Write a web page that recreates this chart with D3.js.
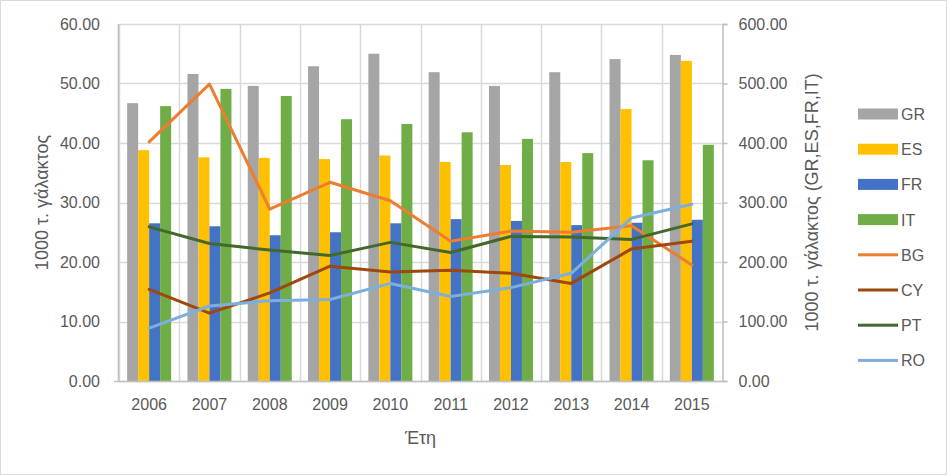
<!DOCTYPE html>
<html>
<head>
<meta charset="utf-8">
<script src="https://cdn.jsdelivr.net/npm/d3@7"></script>
<style>
  body { margin: 0; background: #fff; }
  svg text { font-family: "Liberation Sans", Arial, sans-serif; fill: #595959; }
</style>
</head>
<body>
<div id="chart"></div>
<script>
// Έτη
const years = ['2006', '2007', '2008', '2009', '2010', '2011', '2012', '2013', '2014', '2015'];

// ράβδοι - δεξής άξονας (GR, ES, FR, IT)
const GR = [467, 516, 496, 529, 550, 519, 496, 519, 541, 548];
const ES = [388, 376, 375, 373, 379, 368, 363, 368, 457, 538];
const FR = [265, 260, 245, 250, 265, 272, 269, 262, 266, 271];
const IT = [462, 491, 479, 440, 432, 418, 407, 383, 371, 397];

// γραμμές - αριστερός άξονας
const BG = [40.2, 49.9, 28.9, 33.4, 30.3, 23.5, 25.2, 25.0, 26.1, 19.5];
const CY = [15.4, 11.4, 14.8, 19.3, 18.3, 18.6, 18.1, 16.4, 22.2, 23.5];
const PT = [25.9, 23.1, 22.0, 21.1, 23.3, 21.6, 24.3, 24.2, 23.8, 26.4];
const RO = [8.9, 12.6, 13.5, 13.7, 16.4, 14.2, 15.7, 18.1, 27.4, 29.7];

const leftTicks = [0, 10, 20, 30, 40, 50, 60];
const rightTicks = [0, 100, 200, 300, 400, 500, 600];

const barSeries = [
  { name: 'GR', values: GR, color: '#A5A5A5' },
  { name: 'ES', values: ES, color: '#FFC000' },
  { name: 'FR', values: FR, color: '#4472C4' },
  { name: 'IT', values: IT, color: '#70AD47' }
];
const lineSeries = [
  { name: 'BG', values: BG, color: '#ED7D31' },
  { name: 'CY', values: CY, color: '#9E480E' },
  { name: 'PT', values: PT, color: '#43682B' },
  { name: 'RO', values: RO, color: '#7CAFDD' }
];

const width = 947, height = 475;
const plot = { left: 119, right: 722, top: 24, bottom: 381 };

const svg = d3.select('#chart').append('svg')
  .attr('width', width)
  .attr('height', height);

// πλαίσιο
svg.append('rect')
  .attr('x', 0.5).attr('y', 0.5)
  .attr('width', width - 1).attr('height', height - 1)
  .attr('fill', '#fff').attr('stroke', '#d9d9d9');

const x = d3.scaleBand().domain(years).range([plot.left, plot.right]);
const yLeft = d3.scaleLinear().domain([0, 60]).range([plot.bottom, plot.top]);
const yRight = d3.scaleLinear().domain([0, 600]).range([plot.bottom, plot.top]);

// πλέγμα
const grid = svg.append('g');
leftTicks.forEach(t => {
  grid.append('line')
    .attr('x1', plot.left).attr('x2', plot.right)
    .attr('y1', Math.round(yLeft(t)) + 0.5).attr('y2', Math.round(yLeft(t)) + 0.5)
    .attr('stroke', '#d9d9d9').attr('stroke-width', 1.5);
});
years.forEach(yr => {
  const xp = Math.round(x(yr)) + 0.5;
  grid.append('line')
    .attr('x1', xp).attr('x2', xp)
    .attr('y1', plot.top).attr('y2', plot.bottom)
    .attr('stroke', '#d9d9d9').attr('stroke-width', 1.5);
});

// ράβδοι
const barW = 11;
const groupOff = (x.bandwidth() - barW * barSeries.length) / 2;
barSeries.forEach((s, si) => {
  svg.append('g').selectAll('rect')
    .data(s.values)
    .enter()
    .append('rect')
    .attr('x', (d, i) => x(years[i]) + groupOff + si * barW)
    .attr('y', d => yRight(d))
    .attr('width', barW)
    .attr('height', d => plot.bottom - yRight(d))
    .attr('fill', s.color);
});

// άξονες
svg.append('line')
  .attr('x1', plot.left - 0.5).attr('x2', plot.left - 0.5)
  .attr('y1', plot.top).attr('y2', plot.bottom)
  .attr('stroke', '#bfbfbf').attr('stroke-width', 1.5);
svg.append('line')
  .attr('x1', plot.left - 5).attr('x2', plot.right)
  .attr('y1', plot.bottom + 0.5).attr('y2', plot.bottom + 0.5)
  .attr('stroke', '#bfbfbf').attr('stroke-width', 1.5);

const rightAxis = svg.append('g')
  .attr('transform', `translate(${plot.right + 0.5},0)`)
  .call(d3.axisRight(yRight).tickValues(rightTicks).tickSize(5).tickPadding(11)
    .tickFormat(d => d.toFixed(2)));
rightAxis.select('.domain').attr('stroke', '#bfbfbf').attr('stroke-width', 1.5);
rightAxis.selectAll('.tick line').attr('stroke', '#bfbfbf').attr('stroke-width', 1.5);
rightAxis.selectAll('.tick text').style('font-size', '16px').attr('fill', '#595959');

const leftAxis = svg.append('g')
  .attr('transform', `translate(${plot.left},0)`)
  .call(d3.axisLeft(yLeft).tickValues(leftTicks).tickSize(0).tickPadding(19)
    .tickFormat(d => d.toFixed(2)));
leftAxis.select('.domain').remove();
leftAxis.selectAll('.tick text').style('font-size', '16px').attr('fill', '#595959');

const bottomAxis = svg.append('g')
  .attr('transform', `translate(0,${plot.bottom})`)
  .call(d3.axisBottom(x).tickSize(0).tickPadding(18));
bottomAxis.select('.domain').remove();
bottomAxis.selectAll('.tick text').style('font-size', '16px').attr('fill', '#595959');

// γραμμές
const line = d3.line()
  .x((d, i) => x(years[i]) + x.bandwidth() / 2)
  .y(d => yLeft(d));
lineSeries.forEach(s => {
  svg.append('path')
    .datum(s.values)
    .attr('d', line)
    .attr('fill', 'none')
    .attr('stroke', s.color)
    .attr('stroke-width', 3)
    .attr('stroke-linejoin', 'round')
    .attr('stroke-linecap', 'round');
});

// τίτλοι αξόνων
const midY = (plot.top + plot.bottom) / 2;
svg.append('text')
  .attr('transform', `translate(48,${midY}) rotate(-90)`)
  .attr('text-anchor', 'middle')
  .style('font-size', '18px')
  .text('1000 τ. γάλακτος');
svg.append('text')
  .attr('transform', `translate(818,${midY}) rotate(-90)`)
  .attr('text-anchor', 'middle')
  .style('font-size', '18px')
  .text('1000 τ. γάλακτος (GR,ES,FR,IT)');
svg.append('text')
  .attr('x', (plot.left + plot.right) / 2)
  .attr('y', 444)
  .attr('text-anchor', 'middle')
  .style('font-size', '18px')
  .text('Έτη');

// υπόμνημα
const legend = svg.append('g');
const legItems = barSeries.concat(lineSeries);
legItems.forEach((s, i) => {
  const ly = 114 + i * 35.2;
  const isBar = i < barSeries.length;
  legend.append('rect')
    .attr('x', 858).attr('y', ly - (isBar ? 5.5 : 1.5))
    .attr('width', 40).attr('height', isBar ? 11 : 3)
    .attr('fill', s.color);
  legend.append('text')
    .attr('x', 901).attr('y', ly + 6)
    .style('font-size', '16px')
    .text(s.name);
});
</script>
</body>
</html>
